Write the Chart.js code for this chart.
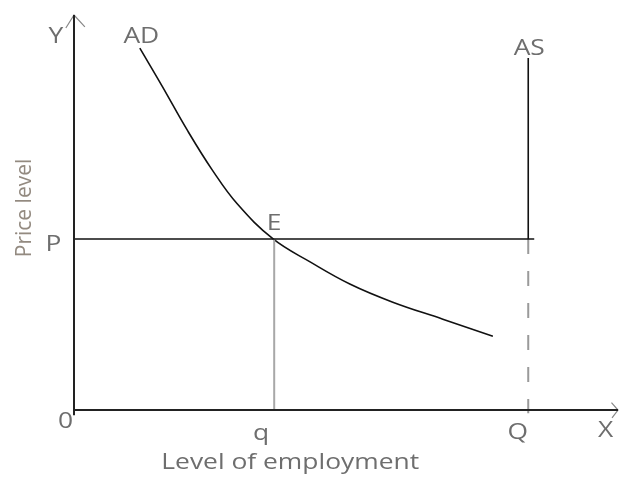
<!DOCTYPE html>
<html>
<head>
<meta charset="utf-8">
<script src="https://cdn.jsdelivr.net/npm/chart.js@4.4.1/dist/chart.umd.min.js"></script>
<style>
  html, body { margin: 0; padding: 0; background: #fff; }
</style>
</head>
<body>
<canvas id="adAsChart" width="619" height="483"></canvas>
<script>
// x = level of employment, y = price level (0-100 each)
const smallQ = 36.8;    // employment at E
const bigQ = 83.5;      // full employment
const priceP = 43.3;    // price level at E
const asTop = 89.1;
const pLineEnd = 84.6;

const adX = [12.1, 16.2, 20.8, 25.4, 30.0, 36.6, 43.4, 50.7, 58.6, 67.8, 77.0];
const adY = [91.6, 82.0, 70.9, 60.8, 52.2, 43.3, 37.5, 31.9, 27.3, 23.0, 18.7];

const yAxisLine = [[0, -1.3], [0, 100]];
const xAxisLine = [[0, 0], [100, 0]];
const yArrow = [[-1.5, 96.7], [0, 100], [2.0, 97.0]];
const xArrow = [[98.8, 1.85], [100, 0], [98.9, -2.0]];

const pts = arr => arr.map(p => ({ x: p[0], y: p[1] }));

const line = (data, color, width, extra) => Object.assign({
  data,
  showLine: true,
  borderColor: color,
  borderWidth: width,
  pointRadius: 0,
  fill: false,
  clip: false
}, extra || {});

const labelPlugin = {
  id: 'diagramLabels',
  afterDatasetsDraw(chart, args, opts) {
    const { ctx, scales: { x, y } } = chart;
    opts.items.forEach(item => {
      ctx.save();
      ctx.translate(x.getPixelForValue(item.at[0]) + item.dx, y.getPixelForValue(item.at[1]) + item.dy);
      if (item.rotate) ctx.rotate(item.rotate);
      ctx.scale(item.sx || opts.stretch, 1);
      ctx.font = (item.size || opts.size) + 'px "Open Sans"';
      ctx.fillStyle = item.color || opts.color;
      ctx.textAlign = 'center';
      ctx.textBaseline = 'alphabetic';
      ctx.fillText(item.text, 0, 0);
      ctx.restore();
    });
  }
};

new Chart(document.getElementById('adAsChart'), {
  type: 'scatter',
  data: {
    datasets: [
      line(pts(yAxisLine), '#222', 2),
      line(pts(xAxisLine), '#222', 2),
      line(pts(yArrow), '#888', 1.2),
      line(pts(xArrow), '#888', 1.2),
      line([{ x: 0, y: priceP }, { x: pLineEnd, y: priceP }], '#111', 1.6),
      line([{ x: smallQ, y: priceP }, { x: smallQ, y: 0 }], '#a8a8a8', 2),
      line([{ x: bigQ, y: asTop }, { x: bigQ, y: priceP }], '#111', 1.6),
      line([{ x: bigQ, y: priceP }, { x: bigQ, y: -0.8 }], '#9a9a9a', 2, { borderDash: [15, 17] }),
      line(adX.map((v, i) => ({ x: v, y: adY[i] })), '#111', 1.6, { tension: 0.4 })
    ]
  },
  options: {
    responsive: false,
    animation: false,
    layout: { padding: { left: 74, right: 1, top: 15, bottom: 73 } },
    scales: {
      x: { type: 'linear', min: 0, max: 100, display: false },
      y: { type: 'linear', min: 0, max: 100, display: false }
    },
    plugins: {
      legend: { display: false },
      tooltip: { enabled: false },
      diagramLabels: {
        size: 22,
        stretch: 1.2,
        color: '#6e6e6e',
        items: [
          { text: 'Y', at: [0, 100], dx: -18, dy: 28 },
          { text: 'AD', at: [adX[0], adY[0]], dx: 1.5, dy: -5 },
          { text: 'AS', at: [bigQ, asTop], dx: 1, dy: -3 },
          { text: 'E', at: [smallQ, priceP], dx: 0, dy: -9 },
          { text: 'P', at: [0, priceP], dx: -20.5, dy: 12 },
          { text: '0', at: [0, 0], dx: -8.5, dy: 18 },
          { text: 'q', at: [smallQ, 0], dx: -13, dy: 30 },
          { text: 'Q', at: [bigQ, 0], dx: -10.5, dy: 29 },
          { text: 'X', at: [100, 0], dx: -12.5, dy: 27 },
          { text: 'Level of employment', at: [smallQ, 0], dx: 16, dy: 59 },
          { text: 'Price level', at: [0, priceP], dx: -43, dy: -31, rotate: -Math.PI / 2, sx: 1, size: 21, color: '#938a80' }
        ]
      }
    }
  },
  plugins: [labelPlugin]
});
</script>
</body>
</html>
